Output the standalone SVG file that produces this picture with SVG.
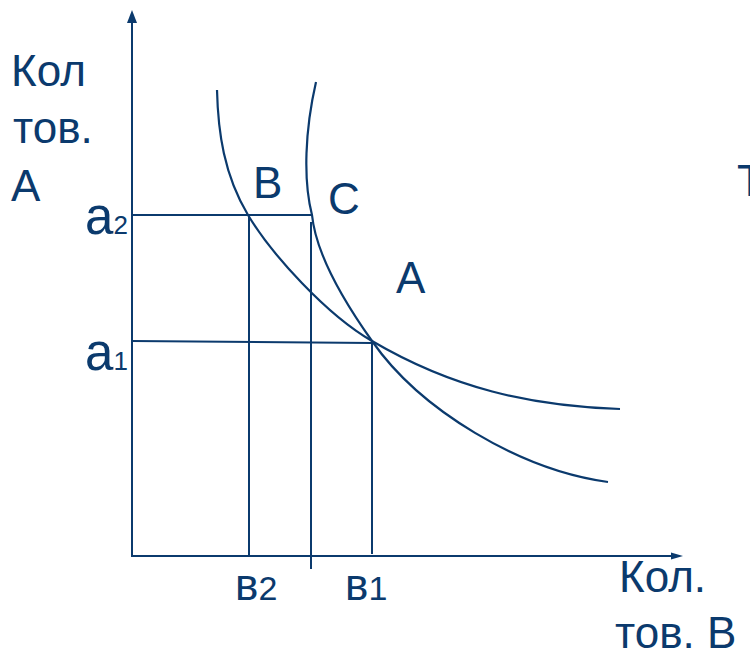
<svg xmlns="http://www.w3.org/2000/svg" width="750" height="652" viewBox="0 0 750 652">
<style>
.ln{stroke:#0b3a6d;stroke-width:2;fill:none}
.cv{stroke:#0b3a6d;stroke-width:2.2;fill:none}
.t{font-family:"Liberation Sans",Arial,sans-serif;fill:#0b3a6d;font-size:44px}
.s{font-size:26px}
.m{font-size:34px}
</style>
<rect width="750" height="652" fill="#fff"/>
<g id="axes">
<line class="ln" x1="132" y1="20" x2="132" y2="557"/>
<polygon points="132,10 127,23 137,23" fill="#0b3a6d"/>
<line class="ln" x1="131" y1="556" x2="674" y2="556"/>
<polygon points="683,556 671,552.5 671,559.5" fill="#0b3a6d"/>
</g>
<g id="connectors">
<line class="ln" x1="132" y1="215" x2="312" y2="215"/>
<line class="ln" x1="132" y1="341" x2="372" y2="343"/>
<line class="ln" x1="249" y1="215" x2="249" y2="556"/>
<line class="ln" x1="311" y1="222" x2="311" y2="569"/>
<line class="ln" x1="372" y1="342" x2="372" y2="554"/>
</g>
<g id="curve-1">
<path class="cv" d="M217,90 C218,132 224,175 248,215 C272,255 327,315 372,341 C452,388 530,406 620,409"/>
</g>
<g id="curve-2">
<path class="cv" d="M316,82 C305,130 303,180 312,215 C316,255 345,303 372,341 C420,410 520,470 608,482"/>
</g>
<g id="label-y">
<text class="t" x="11" y="86">Кол</text>
<text class="t" x="13" y="143">тов.</text>
<text class="t" x="11" y="201">А</text>
</g>
<g id="label-x">
<text class="t" x="619" y="592">Кол.</text>
<text class="t" x="615" y="648">тов. В</text>
</g>
<g id="point-B"><text class="t" x="253" y="198">B</text></g>
<g id="point-C"><text class="t" x="328" y="214">C</text></g>
<g id="point-A"><text class="t" x="396" y="293">A</text></g>
<g id="label-a2"><text class="t" x="85" y="234" style="font-size:51px">a<tspan class="s">2</tspan></text></g>
<g id="label-a1"><text class="t" x="85" y="370" style="font-size:51px">a<tspan class="s">1</tspan></text></g>
<g id="label-b2"><text class="t" x="235" y="600">в<tspan class="m">2</tspan></text></g>
<g id="label-b1"><text class="t" x="345" y="600">в<tspan class="m">1</tspan></text></g>
<g id="label-T"><text class="t" x="737" y="196">Т</text></g>
</svg>
